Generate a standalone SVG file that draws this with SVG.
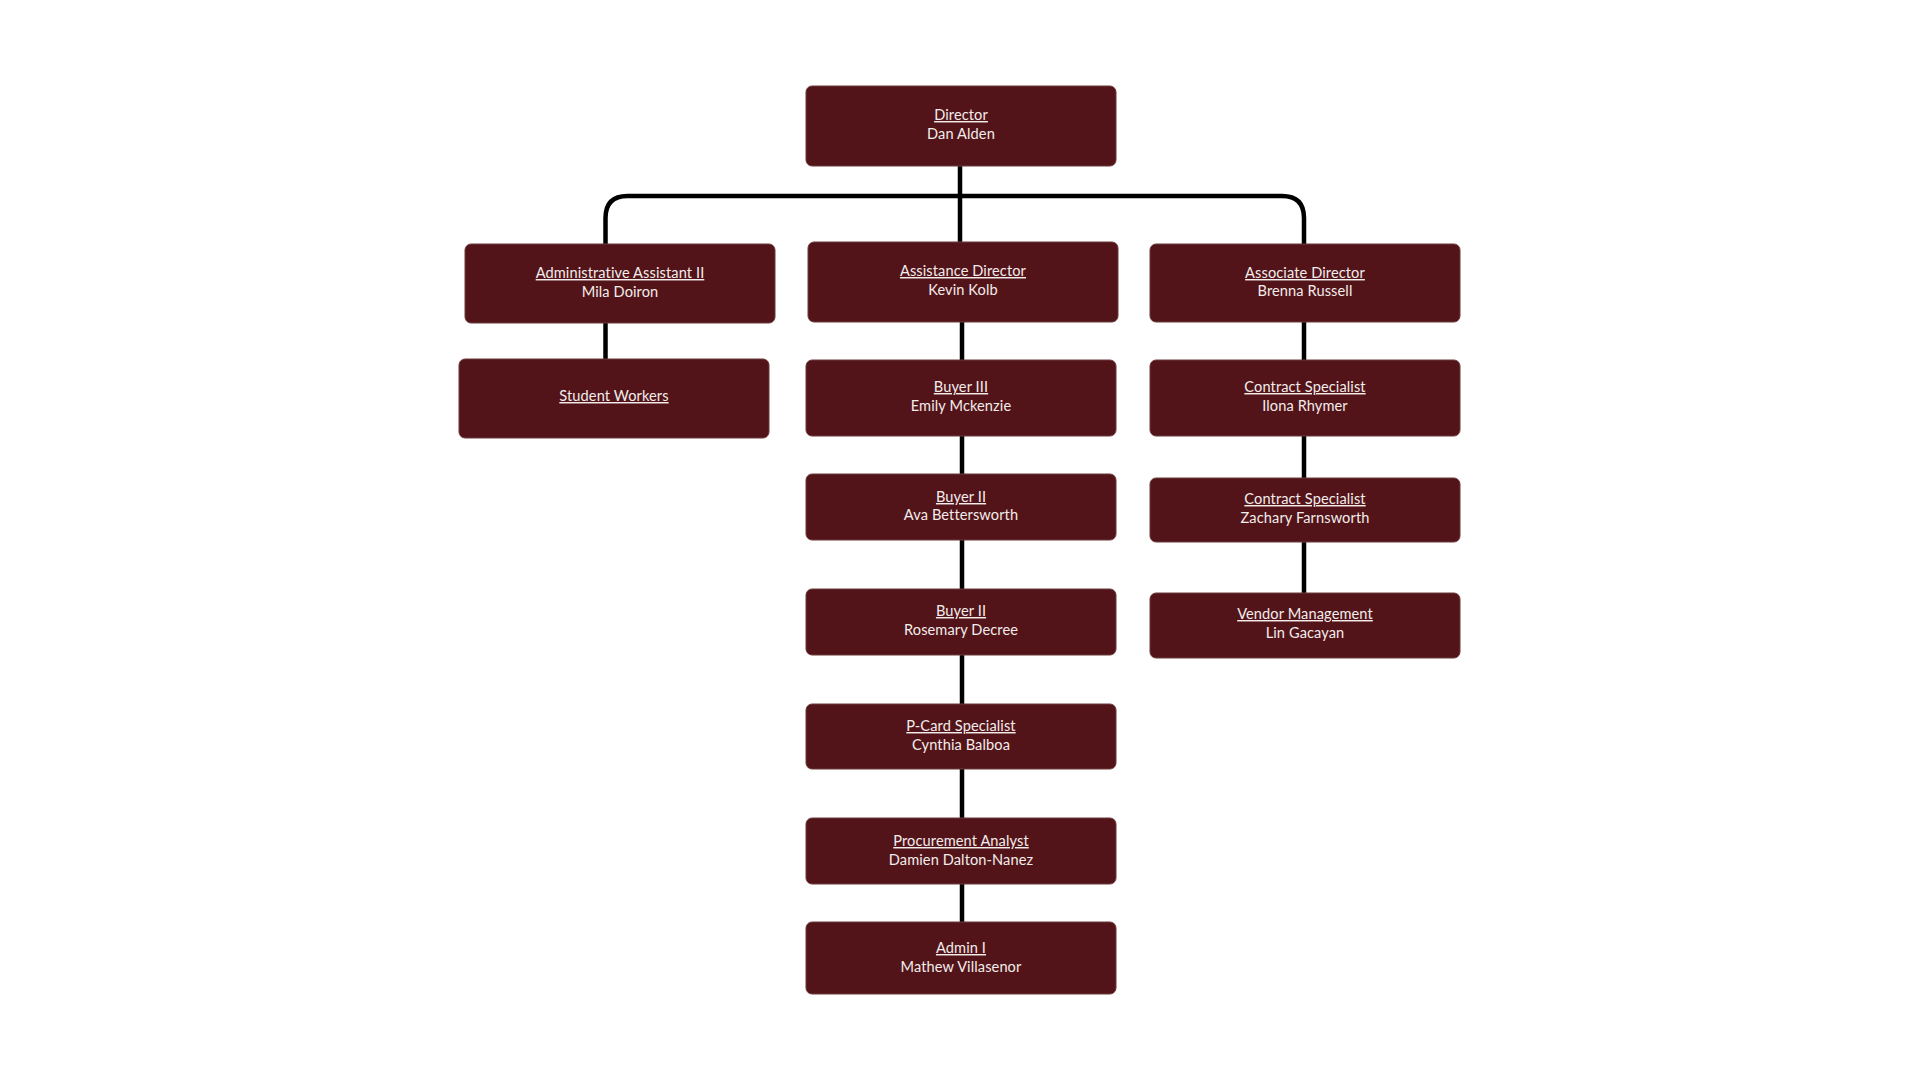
<svg xmlns="http://www.w3.org/2000/svg" width="1920" height="1080" viewBox="0 0 1920 1080">
<style>
.box{fill:#521418;stroke:#6b3a3d;stroke-width:1}
.t{font-family:Lato,"Open Sans","Liberation Sans",sans-serif;font-size:14.6px;letter-spacing:0.1px;fill:#f3ecec;text-anchor:middle}
.u{text-decoration:underline}
.c{fill:none;stroke:#000;stroke-width:4.5}
</style>
<rect width="1920" height="1080" fill="#fff"/>
<g id="connectors">
<path class="c" d="M960 166 V242"/>
<path class="c" d="M605.5 244 V218 Q605.5 196 627.5 196 H1282 Q1304 196 1304 218 V244"/>
<path class="c" d="M605.5 323 V359"/>
<path class="c" d="M962 322 V360"/>
<path class="c" d="M962 436 V474"/>
<path class="c" d="M962 540 V589"/>
<path class="c" d="M962 655 V704"/>
<path class="c" d="M962 769 V818"/>
<path class="c" d="M962 884 V922"/>
<path class="c" d="M1304 322 V360"/>
<path class="c" d="M1304 436 V478"/>
<path class="c" d="M1304 542 V593"/>
</g>
<g id="director"><rect class="box" x="806" y="86" width="310" height="80" rx="6"/><text class="t u" x="961" y="120">Director</text><text class="t" x="961" y="139">Dan Alden</text></g>
<g id="admin-asst"><rect class="box" x="465" y="244" width="310" height="79" rx="6"/><text class="t u" x="620" y="278">Administrative Assistant II</text><text class="t" x="620" y="297">Mila Doiron</text></g>
<g id="assistance-director"><rect class="box" x="808" y="242" width="310" height="80" rx="6"/><text class="t u" x="963" y="276">Assistance Director</text><text class="t" x="963" y="295">Kevin Kolb</text></g>
<g id="associate-director"><rect class="box" x="1150" y="244" width="310" height="78" rx="6"/><text class="t u" x="1305" y="278">Associate Director</text><text class="t" x="1305" y="296">Brenna Russell</text></g>
<g id="student-workers"><rect class="box" x="459" y="359" width="310" height="79" rx="6"/><text class="t u" x="614" y="401">Student Workers</text></g>
<g id="buyer3"><rect class="box" x="806" y="360" width="310" height="76" rx="6"/><text class="t u" x="961" y="392">Buyer III</text><text class="t" x="961" y="411">Emily Mckenzie</text></g>
<g id="buyer2-ava"><rect class="box" x="806" y="474" width="310" height="66" rx="6"/><text class="t u" x="961" y="502">Buyer II</text><text class="t" x="961" y="520">Ava Bettersworth</text></g>
<g id="buyer2-rosemary"><rect class="box" x="806" y="589" width="310" height="66" rx="6"/><text class="t u" x="961" y="616">Buyer II</text><text class="t" x="961" y="635">Rosemary Decree</text></g>
<g id="pcard"><rect class="box" x="806" y="704" width="310" height="65" rx="6"/><text class="t u" x="961" y="731">P-Card Specialist</text><text class="t" x="961" y="750">Cynthia Balboa</text></g>
<g id="procurement"><rect class="box" x="806" y="818" width="310" height="66" rx="6"/><text class="t u" x="961" y="846">Procurement Analyst</text><text class="t" x="961" y="865">Damien Dalton-Nanez</text></g>
<g id="admin1"><rect class="box" x="806" y="922" width="310" height="72" rx="6"/><text class="t u" x="961" y="953">Admin I</text><text class="t" x="961" y="972">Mathew Villasenor</text></g>
<g id="contract-ilona"><rect class="box" x="1150" y="360" width="310" height="76" rx="6"/><text class="t u" x="1305" y="392">Contract Specialist</text><text class="t" x="1305" y="411">Ilona Rhymer</text></g>
<g id="contract-zachary"><rect class="box" x="1150" y="478" width="310" height="64" rx="6"/><text class="t u" x="1305" y="504">Contract Specialist</text><text class="t" x="1305" y="523">Zachary Farnsworth</text></g>
<g id="vendor"><rect class="box" x="1150" y="593" width="310" height="65" rx="6"/><text class="t u" x="1305" y="619">Vendor Management</text><text class="t" x="1305" y="638">Lin Gacayan</text></g>
</svg>
